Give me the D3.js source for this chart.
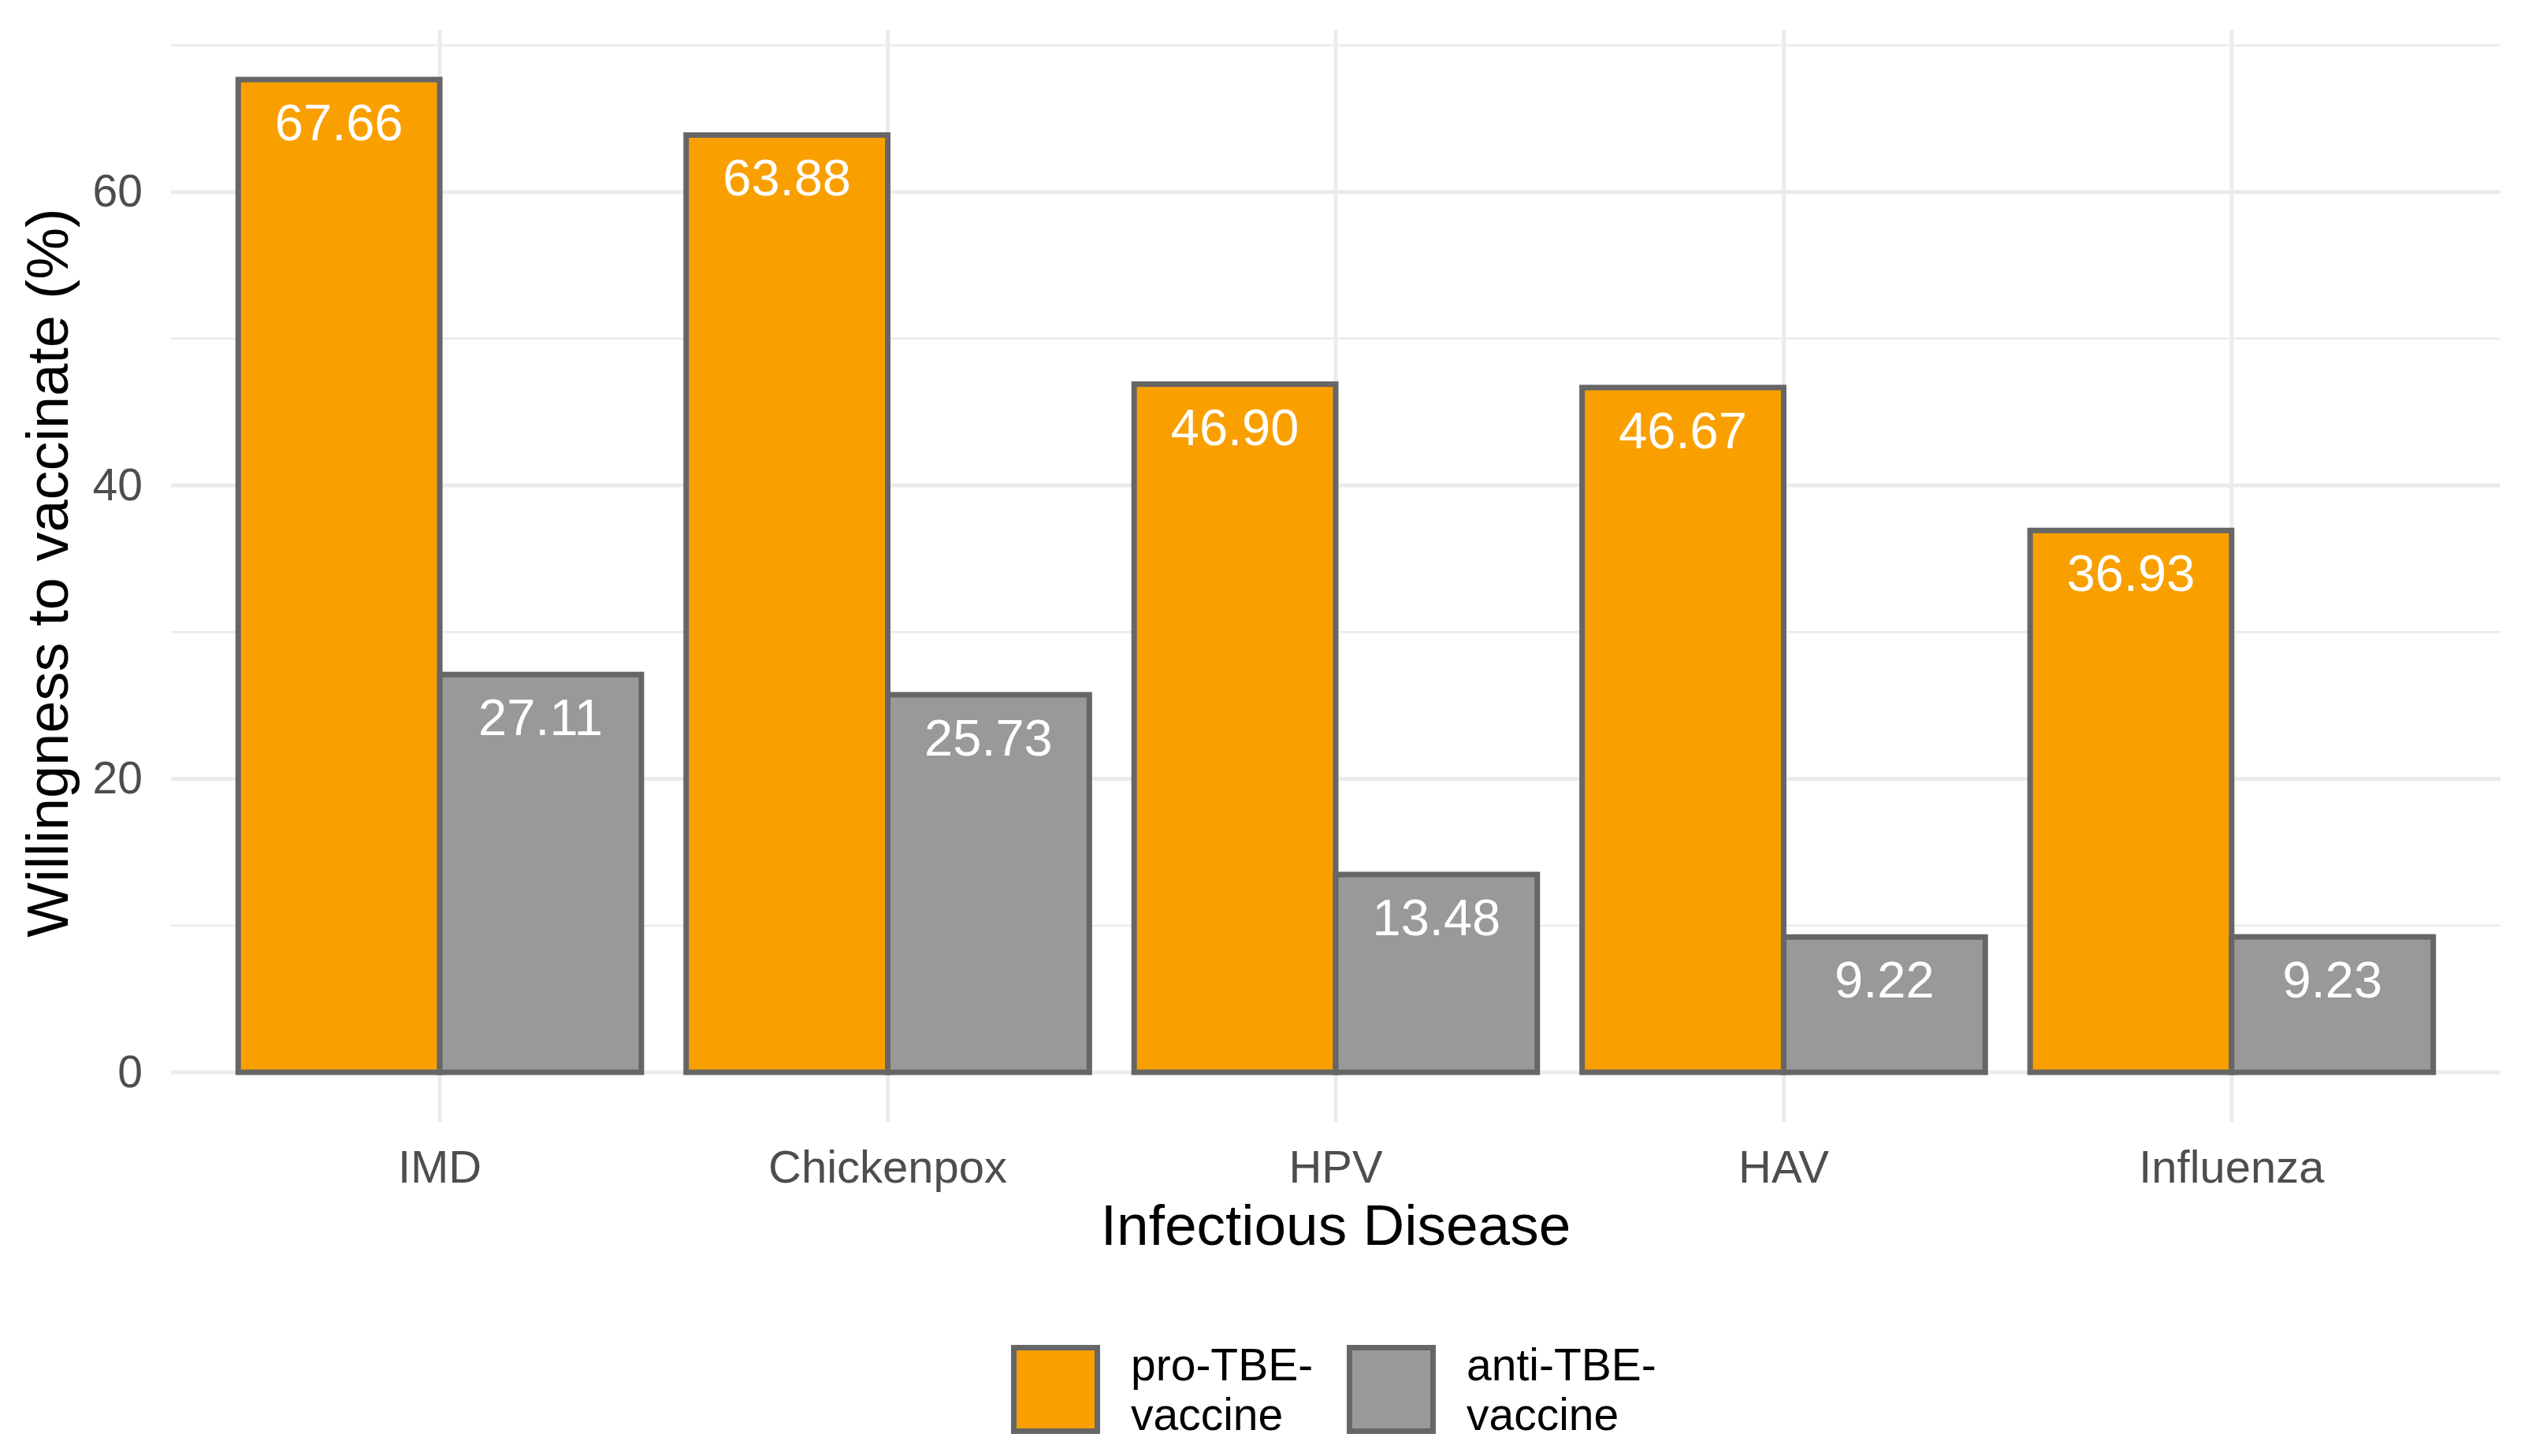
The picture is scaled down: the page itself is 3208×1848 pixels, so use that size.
<!DOCTYPE html>
<html>
<head>
<meta charset="utf-8">
<script src="https://cdn.jsdelivr.net/npm/d3@7"></script>
<style>
  body { margin: 0; background: #fff; }
  text { font-family: "Liberation Sans", Arial, sans-serif; }
</style>
</head>
<body>
<div id="chart"></div>
<script>
// data
const diseases = ["IMD", "Chickenpox", "HPV", "HAV", "Influenza"];
const groups = ["pro", "anti"];
const groupLabels = [["pro-TBE-", "vaccine"], ["anti-TBE-", "vaccine"]];
const proValues = [67.66, 63.88, 46.90, 46.67, 36.93];
const antiValues = [27.11, 25.73, 13.48, 9.22, 9.23];
const majorTicks = [0, 20, 40, 60];
const minorTicks = [10, 30, 50, 70];

const W = 3208, H = 1848;
const margin = {top: 38, right: 35, bottom: 424, left: 217},
    width = W - margin.left - margin.right,
    height = H - margin.top - margin.bottom;

const colors = {pro: "#f9a000", anti: "#999999"};

const svg = d3.select("#chart").append("svg")
    .attr("width", W)
    .attr("height", H);

const canvas = svg.append("g")
    .attr("transform", "translate(" + margin.left + "," + margin.top + ")");

const rows = diseases.map((d, i) => ({disease: d, pro: proValues[i], anti: antiValues[i]}));

// scales (ggplot style expansion)
const maxV = d3.max(proValues);
const y = d3.scaleLinear()
    .domain([-0.05 * maxV, 1.05 * maxV])
    .range([height, 0]);

const x = d3.scaleBand()
    .domain(diseases)
    .range([0, width])
    .paddingInner(0.1)
    .paddingOuter(0.15);

const xSub = d3.scaleBand()
    .domain(groups)
    .range([0, x.bandwidth()])
    .padding(0);

// grid
canvas.append("g").selectAll("line.minor")
    .data(minorTicks)
    .join("line")
    .attr("x1", 0).attr("x2", width)
    .attr("y1", d => y(d)).attr("y2", d => y(d))
    .attr("stroke", "#ebebeb").attr("stroke-width", 2.5);

canvas.append("g").selectAll("line.major")
    .data(majorTicks)
    .join("line")
    .attr("x1", 0).attr("x2", width)
    .attr("y1", d => y(d)).attr("y2", d => y(d))
    .attr("stroke", "#ebebeb").attr("stroke-width", 5);

canvas.append("g").selectAll("line.vert")
    .data(diseases)
    .join("line")
    .attr("x1", d => x(d) + x.bandwidth() / 2).attr("x2", d => x(d) + x.bandwidth() / 2)
    .attr("y1", 0).attr("y2", height)
    .attr("stroke", "#ebebeb").attr("stroke-width", 5);

// bars
const grp = canvas.append("g").selectAll("g")
    .data(rows)
    .join("g")
    .attr("transform", d => "translate(" + x(d.disease) + ",0)");

grp.selectAll("rect")
    .data(d => groups.map(k => ({key: k, value: d[k]})))
    .join("rect")
    .attr("x", d => xSub(d.key))
    .attr("y", d => y(d.value))
    .attr("width", xSub.bandwidth())
    .attr("height", d => y(0) - y(d.value))
    .attr("fill", d => colors[d.key])
    .attr("stroke", "#666666")
    .attr("stroke-width", 7);

grp.selectAll("text")
    .data(d => groups.map(k => ({key: k, value: d[k]})))
    .join("text")
    .attr("x", d => xSub(d.key) + xSub.bandwidth() / 2)
    .attr("y", d => y(d.value) + 77)
    .attr("text-anchor", "middle")
    .attr("fill", "#ffffff")
    .attr("font-size", 65)
    .text(d => d.value.toFixed(2));

// axes
const yAxis = canvas.append("g")
    .call(d3.axisLeft(y).tickValues(majorTicks).tickSize(0).tickPadding(36));
yAxis.select(".domain").remove();
yAxis.selectAll("text")
    .attr("font-size", 57)
    .attr("fill", "#4d4d4d")
    .attr("font-family", "Liberation Sans, Arial, sans-serif");

const xAxis = canvas.append("g")
    .attr("transform", "translate(0," + height + ")")
    .call(d3.axisBottom(x).tickSize(0).tickPadding(36));
xAxis.select(".domain").remove();
xAxis.selectAll("text")
    .attr("font-size", 58)
    .attr("fill", "#4d4d4d")
    .attr("font-family", "Liberation Sans, Arial, sans-serif");

// axis titles
svg.append("text")
    .attr("x", margin.left + width / 2)
    .attr("y", 1580)
    .attr("text-anchor", "middle")
    .attr("font-size", 73)
    .attr("fill", "#000")
    .text("Infectious Disease");

svg.append("text")
    .attr("transform", "translate(86," + (margin.top + height / 2 - 4) + ") rotate(-90)")
    .attr("text-anchor", "middle")
    .attr("font-size", 74)
    .attr("fill", "#000")
    .text("Willingness to vaccinate (%)");

// legend
const legendX = [1283, 1709];
const legend = svg.append("g").selectAll("g")
    .data(groups)
    .join("g")
    .attr("transform", (d, i) => "translate(" + legendX[i] + ",1707)");

legend.append("rect")
    .attr("x", 3.5).attr("y", 3.5)
    .attr("width", 106).attr("height", 106)
    .attr("fill", d => colors[d])
    .attr("stroke", "#666666")
    .attr("stroke-width", 7);

legend.append("text")
    .attr("x", 152)
    .attr("font-size", 57)
    .attr("fill", "#000")
    .selectAll("tspan")
    .data((d, i) => groupLabels[i])
    .join("tspan")
    .attr("x", 152)
    .attr("y", (d, i) => 45 + i * 63)
    .text(d => d);
</script>
</body>
</html>
